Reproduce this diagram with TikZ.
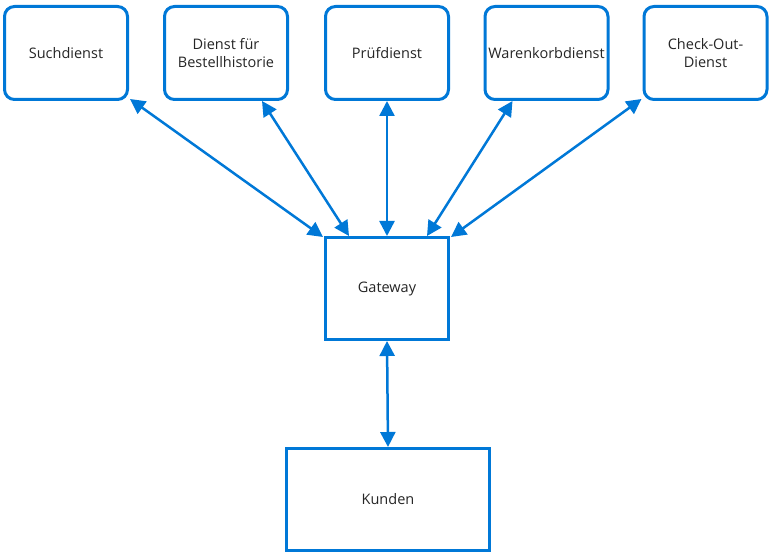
\documentclass[tikz,border=0pt]{standalone}
\usepackage{fontspec}
\setmainfont{Open Sans}
\usetikzlibrary{arrows.meta}
\definecolor{azblau}{HTML}{0078D7}
\tikzset{
  dienst/.style={draw=azblau, line width=3pt, rounded corners=10pt, fill=white,
    minimum width=123pt, minimum height=93pt, align=center, inner sep=1pt,
    font=\fontsize{14.5}{17.5}\selectfont, text=black!85},
  block/.style={draw=azblau, line width=3pt, fill=white, minimum height=102pt,
    align=center, font=\fontsize{14.5}{17.5}\selectfont, text=black!85},
  pfeil/.style={draw=azblau, line width=2.5pt, {Triangle[length=15pt,width=15pt]}-{Triangle[length=15pt,width=15pt]}}
}
\begin{document}
\begin{tikzpicture}[x=1pt,y=-1pt]
        \useasboundingbox (0,0) rectangle (772,556);
        %dienste oben
            \node[dienst] (such) at (66,53) {Suchdienst};
            \node[dienst] (bestell) at (226,53) {Dienst für\\Bestellhistorie};
            \node[dienst] (pruef) at (387,53) {Prüfdienst};
            \node[dienst] (waren) at (546.5,53) {Warenkorbdienst};
            \node[dienst] (checkout) at (705.5,53) {Check-Out-\\Dienst};
        %gateway und kunden
            \node[block, minimum width=123pt] (gateway) at (387,288.5) {Gateway};
            \node[block, minimum width=203pt] (kunden) at (388,499.5) {Kunden};
        %pfeile
            \draw[pfeil] ([xshift=1pt,yshift=2pt]such.south east)--([xshift=-1pt,yshift=-1pt]gateway.north west);
            \draw[pfeil] ([xshift=36pt]bestell.south)--([xshift=-38pt]gateway.north);
            \draw[pfeil] (pruef.south)--(gateway.north);
            \draw[pfeil] ([xshift=-34pt]waren.south)--([xshift=40pt]gateway.north);
            \draw[pfeil] ([xshift=-1pt,yshift=2pt]checkout.south west)--([xshift=1pt,yshift=-1pt]gateway.north east);
            \draw[pfeil] (gateway.south)--(kunden.north);
        \end{tikzpicture}
\end{document}
